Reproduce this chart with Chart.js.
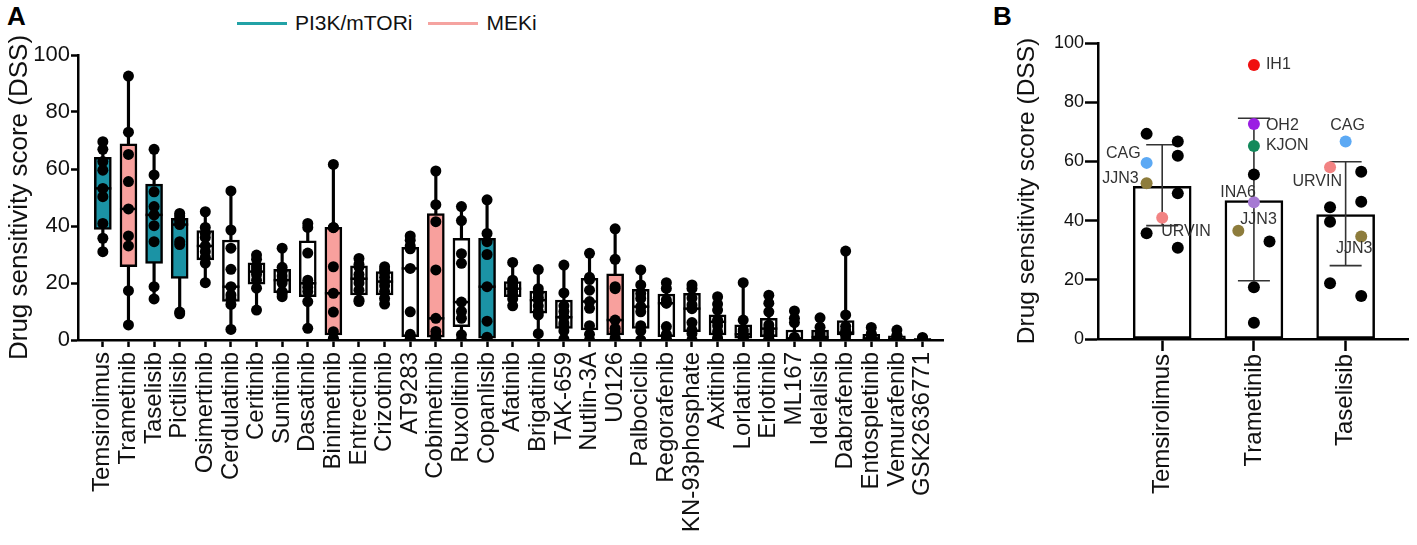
<!DOCTYPE html>
<html>
<head>
<meta charset="utf-8">
<script src="https://cdn.jsdelivr.net/npm/chart.js@4.4.1/dist/chart.umd.min.js"></script>
<style>
  body { margin: 0; background: #fff; width: 1417px; height: 545px; overflow: hidden;
         font-family: "Liberation Sans", Arial, sans-serif; }
  .panel { position: absolute; top: 0; height: 545px; }
  #panelA { left: 0; width: 960px; }
  #panelB { left: 990px; width: 427px; }
  .tag { position: absolute; top: 1px; font-size: 26px; font-weight: bold; color: #000; }
  .legend { position: absolute; top: 10px; left: 237px; height: 26px; display: flex;
            align-items: center; font-size: 21px; color: #111; }
  .swatch { display: inline-block; width: 50px; height: 3px; margin-right: 8px; }
</style>
</head>
<body>
<div class="tag" style="left:7px">A</div>
<div class="tag" style="left:993px">B</div>
<div class="legend">
  <span class="swatch" style="background:#22a2a6"></span><span>PI3K/mTORi</span>
  <span class="swatch" style="background:#f5a3a0;margin-left:16px"></span><span>MEKi</span>
</div>
<div class="panel" id="panelA"><canvas id="chartA" width="960" height="545"></canvas></div>
<div class="panel" id="panelB"><canvas id="chartB" width="427" height="545"></canvas></div>
<script>
// ---- panel A: DSS per drug across cell lines ----
const drugs = ['Temsirolimus', 'Trametinib', 'Taselisib', 'Pictilisib', 'Osimertinib', 'Cerdulatinib',
  'Ceritinib', 'Sunitinib', 'Dasatinib', 'Binimetinib', 'Entrectinib', 'Crizotinib', 'AT9283',
  'Cobimetinib', 'Ruxolitinib', 'Copanlisib', 'Afatinib', 'Brigatinib', 'TAK-659', 'Nutlin-3A',
  'U0126', 'Palbociclib', 'Regorafenib', 'KN-93phosphate', 'Axitinib', 'Lorlatinib', 'Erlotinib',
  'ML167', 'Idelalisib', 'Dabrafenib', 'Entospletinib', 'Vemurafenib', 'GSK2636771'];

const drugClass = ['PI3K/mTORi', 'MEKi', 'PI3K/mTORi', 'PI3K/mTORi', '', '', '', '', '', 'MEKi', '', '', '',
  'MEKi', '', 'PI3K/mTORi', '', '', '', '', 'MEKi', '', '', '', '', '', '', '', '', '', '', '', ''];

const dss = [
  [69.6, 66.9, 62.6, 59.6, 53.2, 50.3, 40.9, 35.7, 31],
  [92.6, 72.9, 65.1, 55.6, 46, 36.5, 33, 17.3, 5.3],
  [66.9, 57.9, 52, 46.8, 43.9, 40.1, 34.5, 18.7, 14.4],
  [44.4, 43.5, 42.5, 41.5, 40.5, 34.5, 33.5, 9.8, 9.2],
  [45, 39.5, 37.5, 36, 33, 31, 29, 27, 20.1],
  [52.3, 38.6, 32.2, 24.8, 18.7, 15.8, 14.5, 12.5, 3.7],
  [29.8, 28.3, 26, 25, 24, 23, 21, 18.2, 10.5],
  [32.2, 25.5, 24.1, 22.5, 21, 20, 17, 16.2, 15.2],
  [40.9, 39.5, 30.5, 21, 19.9, 18.5, 17, 13.5, 4.1],
  [61.6, 39.5, 39.4, 25.7, 16.4, 9.8, 2.9, 0.6, 0],
  [28.6, 26.5, 25.5, 23, 21.5, 20, 17.5, 14, 13.5],
  [25.7, 24.5, 23.5, 22, 20.5, 19, 17, 14.6, 12.6],
  [36.5, 35, 33, 32, 25.1, 9.9, 2, 0.4, 0],
  [59.3, 47.5, 41.5, 24.6, 7.6, 3, 1.5, 0.5, 0],
  [46.8, 41.9, 30.3, 26.9, 13.3, 10, 7.6, 1.8, 0],
  [49.2, 37.4, 34.5, 30, 18.7, 6.6, 1, 0.2, 0],
  [27.2, 21, 20, 19, 18, 17, 16, 14.4, 12],
  [24.7, 18, 16.4, 15, 14, 12, 10, 8.8, 2.2],
  [26.3, 16.5, 12, 10, 8, 6, 5, 3.2, 0.3],
  [30.4, 22, 21.2, 17.5, 13.5, 11.1, 5, 2, 0],
  [39, 28.3, 18.7, 18, 7, 4.1, 2.9, 0.7, 0],
  [24.6, 19.3, 16.3, 14.6, 11.7, 9.9, 5, 3.2, 0],
  [20.1, 18.1, 14.1, 13, 12.9, 4.7, 2, 0.4, 0],
  [19.3, 18.1, 14.7, 12.3, 11, 6.1, 3.5, 2.3, 0],
  [15.2, 12.6, 10.5, 7.1, 6.4, 5, 2.9, 0.7, 0],
  [20.1, 7, 3.6, 3, 2, 1.5, 1, 0.2, 0],
  [15.7, 12.9, 9.9, 5.3, 4, 3, 2, 0.4, 0],
  [10.2, 7.6, 6.1, 1, 0.5, 0.3, 0, 0, 0],
  [7.8, 4.5, 2.5, 1.5, 1, 0.5, 0, 0, 0],
  [31.2, 8.8, 4.8, 3.5, 2.6, 2.4, 2, 1.6, 0],
  [4.4, 2.2, 1.8, 1, 0.5, 0.2, 0, 0, 0],
  [3.5, 1.6, 1.4, 0.8, 0.4, 0.2, 0, 0, 0],
  [0.9, 0.6, 0.4, 0.2, 0.1, 0, 0, 0, 0]
];

const boxQ1 = [38.8, 25.7, 26.9, 21.6, 28.1, 13.5, 19.6, 16.6, 15.2, 1.75, 15.8, 15.8, 1.2, 1, 4.7, 0.6,
  15.2, 9.4, 4.1, 3.5, 1.8, 4.1, 1.2, 2.9, 1.8, 0.6, 1.2, 0, 0, 1.8, 0, 0, 0];
const boxMedian = [53.2, 46, 43.9, 40.5, 33, 18.7, 24, 21, 19.9, 16.4, 21.5, 20.5, 25.1, 7.6, 13.3, 18.7,
  18, 14, 8, 13.5, 7, 11.7, 12.9, 11, 6.4, 2, 4, 0.5, 1, 2.6, 0.5, 0.4, 0.1];
const boxQ3 = [64.1, 68.8, 54.7, 42.7, 38.4, 35.1, 27.1, 24.8, 34.8, 39.5, 26, 24, 32.5, 44.4, 35.7, 35.7,
  20.5, 17.2, 14, 21.6, 23.2, 17.8, 16.1, 16.4, 8.8, 5.3, 7.6, 3.5, 3.5, 6.8, 2, 1.5, 0.5];

// ---- panel B: mean DSS with SD and single cell lines ----
const bDrugs = ['Temsirolimus', 'Trametinib', 'Taselisib'];
const bMean = [51.6, 46.8, 42];
const bSdLow = [38.3, 19.7, 24.8];
const bSdHigh = [65.6, 74.6, 59.9];
const bDss = [
  [69.3, 66.7, 61.9, 59.5, 52.6, 49.2, 41, 35.7, 30.8],
  [92.6, 72.6, 65.2, 55.6, 46.2, 36.6, 32.9, 17.5, 5.5],
  [66.7, 58, 56.5, 46.4, 44.5, 39.6, 34.6, 18.8, 14.5]
];
const bCell = [
  ['', '', '', 'CAG', 'JJN3', '', 'URVIN', '', ''],
  ['IH1', 'OH2', 'KJON', '', 'INA6', 'JJN3', '', '', ''],
  ['CAG', 'URVIN', '', '', '', '', 'JJN3', '', '']
];
const bLane = [
  [-1, 1, 1, -1, -1, 1, 0, -1, 1],
  [0, 0, 0, 0, 0, -1, 1, 0, 0],
  [0, -1, 1, 1, -1, -1, 1, -1, 1]
];

const FONT = '"Liberation Sans", Arial, sans-serif';
Chart.defaults.font.family = FONT;
Chart.defaults.color = '#111';

const CLASS_COLORS = { 'PI3K/mTORi': '#1b93a5', 'MEKi': '#f8a09d' };
const CELL_COLORS = { CAG: '#5ca9f4', JJN3: '#8d7c3c', URVIN: '#f28383', IH1: '#f01010',
  OH2: '#9b1fe3', KJON: '#12895b', INA6: '#a67ad3' };

const axisX = (names, tickLength, fontSize, pad, height) => ({
  type: 'linear', offset: false,
  afterBuildTicks: s => { s.ticks = names.map((_, i) => ({ value: i })); },
  afterFit: s => { s.height = height; },
  ticks: { autoSkip: false, minRotation: 90, maxRotation: 90, padding: pad, color: '#111',
    font: { size: fontSize }, callback: v => names[v] },
  grid: { display: true, offset: false, drawOnChartArea: false, tickLength, tickWidth: 2.5, tickColor: '#000' },
  border: { color: '#000', width: 2.5 }
});

const axisY = (width, tickLength, fontSize, titleSize, titlePad) => ({
  min: 0, max: 100,
  afterFit: s => { s.width = width; },
  ticks: { stepSize: 20, padding: 1, color: '#111', font: { size: fontSize } },
  grid: { drawOnChartArea: false, tickLength, tickWidth: 2.5, tickColor: '#000' },
  border: { color: '#000', width: 2.5 },
  title: { display: true, text: 'Drug sensitivity score (DSS)', color: '#111',
    font: { size: titleSize }, padding: { top: titlePad, bottom: 0 } }
});

// median line inside each box, drawn right after the boxes
const medianLines = {
  id: 'medianLines',
  afterDatasetDraw(chart, args) {
    if (args.meta.label !== 'box') return;
    const { ctx } = chart;
    const ys = chart.scales.y;
    ctx.save();
    ctx.strokeStyle = '#000';
    ctx.lineWidth = 2.5;
    args.meta.data.forEach((bar, i) => {
      const y = ys.getPixelForValue(boxMedian[i]);
      ctx.beginPath();
      ctx.moveTo(bar.x - bar.width / 2, y);
      ctx.lineTo(bar.x + bar.width / 2, y);
      ctx.stroke();
    });
    ctx.restore();
  }
};

new Chart(document.getElementById('chartA'), {
  type: 'bar',
  data: {
    datasets: [
      {
        type: 'scatter', label: 'cells', order: 0,
        data: dss.flatMap((vals, i) => vals.map(v => ({ x: i, y: v }))),
        pointRadius: 5.5, backgroundColor: '#000', borderWidth: 0
      },
      {
        type: 'bar', label: 'box', order: 1, grouped: false,
        data: drugs.map((_, i) => ({ x: i, y: [boxQ1[i], boxQ3[i]] })),
        backgroundColor: drugClass.map(c => CLASS_COLORS[c] || '#fff'),
        borderColor: '#000', borderWidth: 2.5, borderSkipped: false, barThickness: 17
      },
      {
        type: 'bar', label: 'range', order: 2, grouped: false,
        data: dss.map((vals, i) => ({ x: i, y: [Math.min(...vals), Math.max(...vals)] })),
        backgroundColor: '#000', borderWidth: 0, barThickness: 2.5
      }
    ]
  },
  options: {
    responsive: false, animation: false,
    layout: { padding: { left: 0, top: 55, right: 17, bottom: 0 } },
    plugins: { legend: { display: false }, tooltip: { enabled: false } },
    scales: {
      x: { ...axisX(drugs, 7, 24, 5, 205), min: -0.97, max: 32.8 },
      y: axisY(78, 7, 22, 26, 4)
    }
  },
  plugins: [medianLines]
});

// SD bars and cell-line labels for panel B
const errorBars = {
  id: 'errorBars',
  afterDatasetDraw(chart, args) {
    if (args.meta.label !== 'mean') return;
    const { ctx } = chart;
    const ys = chart.scales.y;
    ctx.save();
    ctx.strokeStyle = '#333';
    ctx.lineWidth = 1.6;
    args.meta.data.forEach((bar, i) => {
      const lo = ys.getPixelForValue(bSdLow[i]), hi = ys.getPixelForValue(bSdHigh[i]);
      ctx.beginPath();
      ctx.moveTo(bar.x, lo); ctx.lineTo(bar.x, hi);
      ctx.moveTo(bar.x - 16, lo); ctx.lineTo(bar.x + 16, lo);
      ctx.moveTo(bar.x - 16, hi); ctx.lineTo(bar.x + 16, hi);
      ctx.stroke();
    });
    ctx.restore();
  }
};

// where each cell-line name sits relative to its dot
const labelPlacement = {
  'Temsirolimus:CAG': [-6, -9, 'right'], 'Temsirolimus:JJN3': [-8, -5, 'right'],
  'Temsirolimus:URVIN': [-1, 14, 'left'], 'Trametinib:IH1': [12, 0, 'left'],
  'Trametinib:OH2': [12, 1, 'left'], 'Trametinib:KJON': [12, 0, 'left'],
  'Trametinib:INA6': [2, -10, 'right'], 'Trametinib:JJN3': [2, -11, 'left'],
  'Taselisib:CAG': [2, -16, 'center'], 'Taselisib:URVIN': [12, 14, 'right'],
  'Taselisib:JJN3': [-7, 12, 'center']
};

const cellLabels = {
  id: 'cellLabels',
  afterDatasetsDraw(chart) {
    const { ctx } = chart;
    const meta = chart.getDatasetMeta(0);
    ctx.save();
    ctx.font = '16px ' + FONT;
    ctx.fillStyle = '#333';
    ctx.textBaseline = 'middle';
    let k = 0;
    bDss.forEach((vals, i) => vals.forEach((v, j) => {
      const pt = meta.data[k++];
      const name = bCell[i][j];
      if (!name) return;
      const [dx, dy, align] = labelPlacement[bDrugs[i] + ':' + name] || [10, 0, 'left'];
      ctx.textAlign = align;
      ctx.fillText(name, pt.x + dx, pt.y + dy);
    }));
    ctx.restore();
  }
};

new Chart(document.getElementById('chartB'), {
  type: 'bar',
  data: {
    datasets: [
      {
        type: 'scatter', label: 'cells', order: 0,
        data: bDss.flatMap((vals, i) => vals.map((v, j) => ({ x: i + bLane[i][j] * 0.17, y: v }))),
        backgroundColor: bCell.flat().map(c => CELL_COLORS[c] || '#000'),
        pointRadius: 6, borderWidth: 0
      },
      {
        type: 'bar', label: 'mean', order: 1, grouped: false,
        data: bDrugs.map((_, i) => ({ x: i, y: bMean[i] })),
        backgroundColor: '#fff', borderColor: '#000', borderWidth: 2.5,
        borderSkipped: false, barThickness: 58
      }
    ]
  },
  options: {
    responsive: false, animation: false,
    layout: { padding: { left: 0, top: 43, right: 9, bottom: 0 } },
    plugins: { legend: { display: false }, tooltip: { enabled: false } },
    scales: {
      x: { ...axisX(bDrugs, 12, 24, 3, 206), min: -0.70, max: 2.68 },
      y: axisY(108, 13, 18, 24.5, 23)
    }
  },
  plugins: [errorBars, cellLabels]
});
</script>
</body>
</html>
